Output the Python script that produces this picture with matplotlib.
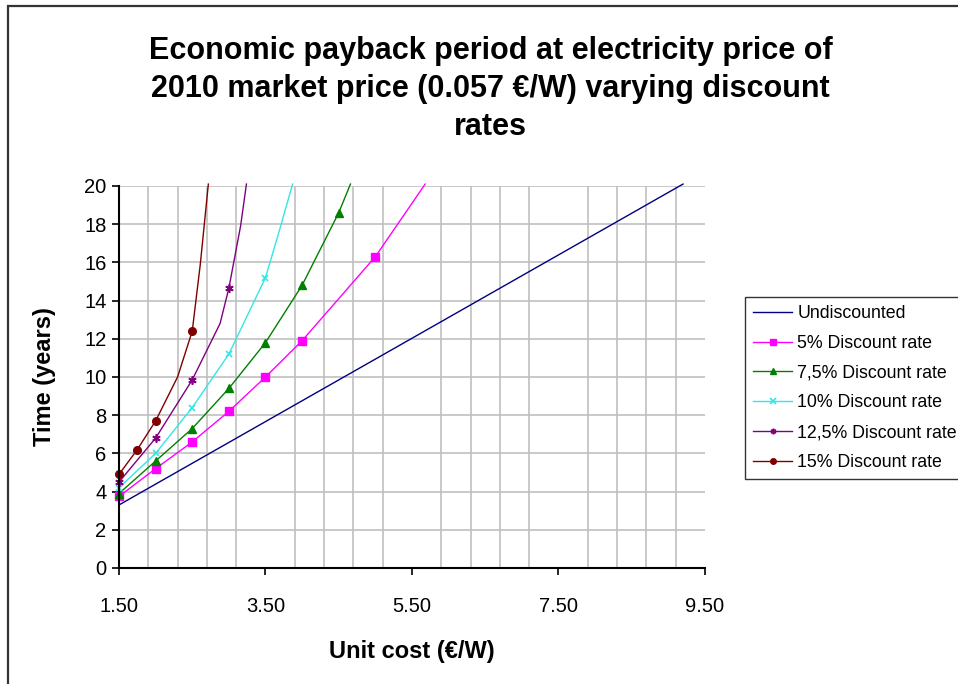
import numpy as np
import matplotlib
matplotlib.use("Agg")
import matplotlib.pyplot as plt
from matplotlib.ticker import FixedLocator, FormatStrFormatter
from matplotlib.patches import Rectangle

plt.rcParams['font.family'] = ['Liberation Sans', 'DejaVu Sans']

# 데이터
undisc_cost = [1.5, 9.2]
undisc_time = [3.3, 20.1]

r5_cost = [1.5, 2.0, 2.5, 3.0, 3.5, 4.0, 5.0, 5.68]
r5_time = [3.75, 5.2, 6.6, 8.2, 10.0, 11.9, 16.3, 20.1]
r5_marks = [0, 1, 2, 3, 4, 5, 6]

r75_cost = [1.5, 2.0, 2.5, 3.0, 3.5, 4.0, 4.5, 4.66]
r75_time = [3.9, 5.6, 7.3, 9.4, 11.8, 14.8, 18.6, 20.1]
r75_marks = [0, 1, 2, 3, 4, 5, 6]

r10_cost = [1.5, 2.0, 2.5, 3.0, 3.5, 3.7, 3.87]
r10_time = [4.2, 6.0, 8.4, 11.2, 15.2, 17.8, 20.1]
r10_marks = [0, 1, 2, 3, 4]

r125_cost = [1.5, 2.0, 2.5, 2.88, 3.0, 3.16, 3.24]
r125_time = [4.5, 6.8, 9.85, 12.8, 14.65, 17.9, 20.1]
r125_marks = [0, 1, 2, 4]

r15_cost = [1.5, 1.75, 2.0, 2.3, 2.5, 2.61, 2.72]
r15_time = [4.9, 6.2, 7.7, 10.0, 12.4, 15.9, 20.1]
r15_marks = [0, 1, 2, 4]

fig = plt.figure(figsize=(9.58, 6.84), dpi=100)
ax = fig.add_axes([0.1242, 0.1696, 0.6117, 0.5585])

# 바깥 테두리
fig.patches.append(Rectangle((8 / 958, -0.05), 1.1, 1 - 6 / 684 + 0.05, transform=fig.transFigure,
                             fill=False, edgecolor='#333333', linewidth=1.6, zorder=0))

lw = 1.0
ax.plot(undisc_cost, undisc_time, color='#000080', lw=lw, label='Undiscounted', clip_on=False)
ax.plot(r5_cost, r5_time, color='#FF00FF', lw=lw, marker='s', ms=5.5, markevery=r5_marks,
        label='5% Discount rate', clip_on=False)
ax.plot(r75_cost, r75_time, color='#008000', lw=lw, marker='^', ms=6, markevery=r75_marks,
        label='7,5% Discount rate', clip_on=False)
ax.plot(r10_cost, r10_time, color='#33E6E6', lw=lw, marker='x', ms=5, mew=1.2, markevery=r10_marks,
        label='10% Discount rate', clip_on=False)
ax.plot(r125_cost, r125_time, color='#800080', lw=lw, marker=(6, 2, 0), ms=6, mew=1.2,
        markevery=r125_marks, label='12,5% Discount rate', clip_on=False)
ax.plot(r15_cost, r15_time, color='#800000', lw=lw, marker='o', ms=5.5, markevery=r15_marks,
        label='15% Discount rate', clip_on=False)

ax.set_xlim(1.5, 9.5)
ax.set_ylim(0, 20)
ax.set_xticks([1.5, 3.5, 5.5, 7.5, 9.5])
ax.xaxis.set_minor_locator(FixedLocator(np.arange(1.5, 9.51, 0.4)))
ax.xaxis.set_major_formatter(FormatStrFormatter('%.2f'))
ax.set_yticks(np.arange(0, 21, 2))

ax.grid(True, which='minor', axis='x', color='#C0C0C0', lw=1.2)
ax.grid(True, which='major', axis='y', color='#C0C0C0', lw=1.2)
ax.set_axisbelow(True)
ax.tick_params(which='minor', length=0)
ax.tick_params(which='major', direction='out', length=5, width=1.2, labelsize=14.5, color='black')
ax.tick_params(axis='x', pad=16)
ax.tick_params(axis='y', pad=4)

ax.spines['top'].set_visible(False)
ax.spines['right'].set_visible(False)
ax.spines['left'].set_linewidth(1.5)
ax.spines['bottom'].set_linewidth(1.5)

ax.set_xlabel('Unit cost (€/W)', fontsize=17, fontweight='bold', labelpad=17)
ax.set_ylabel('Time (years)', fontsize=17, fontweight='bold', labelpad=20)

fig.text(0.512, 0.948, 'Economic payback period at electricity price of\n'
         '2010 market price (0.057 €/W) varying discount\nrates',
         ha='center', va='top', fontsize=22, fontweight='bold', linespacing=1.35)

leg = ax.legend(loc='upper left', bbox_to_anchor=(745 / 958, 1 - 297 / 684),
                bbox_transform=fig.transFigure, fontsize=12.8, frameon=True, fancybox=False,
                edgecolor='black', handlelength=2.2, handletextpad=0.3, borderpad=0.45,
                labelspacing=0.72, borderaxespad=0)
leg.get_frame().set_linewidth(1.0)
for h in leg.legend_handles:
    h.set_markersize(4)

fig.savefig('out.png', dpi=100)
